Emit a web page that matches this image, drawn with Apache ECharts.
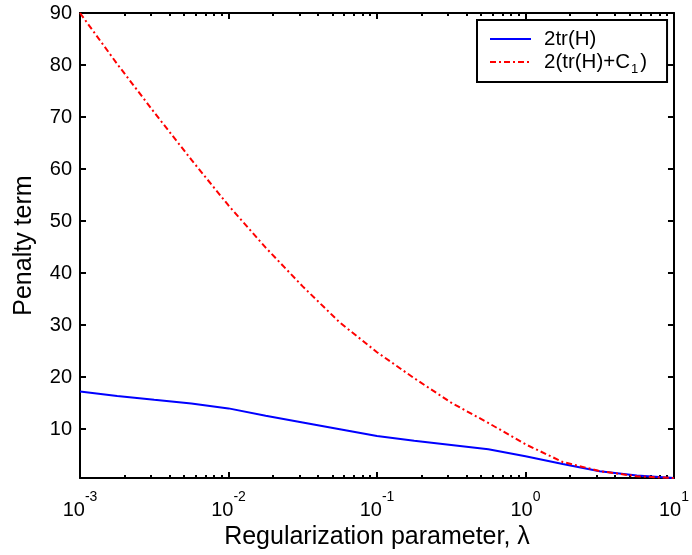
<!DOCTYPE html>
<html><head><meta charset="utf-8">
<script src="https://cdn.jsdelivr.net/npm/echarts@6/dist/echarts.min.js"></script>
<style>html,body{margin:0;padding:0;background:#fff}#c{width:692px;height:555px}</style>
</head><body><div id="c"></div>
<script>
// lambda values (log spaced sample positions)
const lambdas = [0.001, 0.00178, 0.00316, 0.00562, 0.01, 0.0178, 0.0316, 0.0562, 0.1, 0.178, 0.316, 0.562, 1, 1.78, 3.16, 5.62, 10];
// 2tr(H)  (blue solid)
const trH2 = [17.25, 16.4, 15.65, 14.95, 14.0, 12.6, 11.3, 10.0, 8.7, 7.76, 6.95, 6.15, 4.79, 3.3, 1.9, 1.1, 0.6];
// 2(tr(H)+C_1)  (red dash-dot)
const trHC2 = [90, 80.2, 70.9, 61.8, 53.0, 44.9, 37.45, 30.5, 24.8, 19.8, 15.1, 11.2, 7.1, 3.7, 1.95, 0.95, 0.6];
const seriesNames = ['2tr(H)', '2(tr(H)+C_1)'];
const yTicks = [10, 20, 30, 40, 50, 60, 70, 80, 90];
const xMajorTicks = [0.001, 0.01, 0.1, 1, 10];
const xMinorTicks = [0.002, 0.003, 0.004, 0.005, 0.006, 0.007, 0.008, 0.009,
  0.02, 0.03, 0.04, 0.05, 0.06, 0.07, 0.08, 0.09,
  0.2, 0.3, 0.4, 0.5, 0.6, 0.7, 0.8, 0.9,
  2, 3, 4, 5, 6, 7, 8, 9];
const xTitle = 'Regularization parameter, λ';
const yTitle = 'Penalty term';

const FONT = '"Liberation Sans", Arial, Helvetica, sans-serif';
const chart = echarts.init(document.getElementById('c'), null, {renderer: 'canvas'});
const line = () => ({lineStyle: {color: '#000', width: 2}});
const tickStyle = () => ({color: '#000', width: 2});
const X = () => ({type: 'log', logBase: 10, min: 0.001, max: 10, splitLine: {show: false}, gridIndex: 0});
const xAxes = [
  Object.assign(X(), {
    position: 'bottom', axisLine: line(),
    axisTick: {show: true, inside: true, length: 6, customValues: xMajorTicks, lineStyle: tickStyle()},
    axisLabel: {
      customValues: xMajorTicks, margin: 12, color: '#000', fontFamily: FONT,
      formatter: v => '{b|10}{s|' + Math.round(Math.log10(v)) + '}',
      rich: {
        b: {fontSize: 20, lineHeight: 30, verticalAlign: 'bottom', fontFamily: FONT, color: '#000'},
        s: {fontSize: 14, lineHeight: 14, verticalAlign: 'top', fontFamily: FONT, color: '#000'}
      }
    },
    name: xTitle, nameLocation: 'middle', nameGap: 38,
    nameTextStyle: {fontSize: 25, fontFamily: FONT, color: '#000'}
  }),
  Object.assign(X(), {
    position: 'bottom', axisLine: {show: false},
    axisTick: {show: true, inside: true, length: 3, customValues: xMinorTicks, lineStyle: tickStyle()},
    axisLabel: {show: false}
  }),
  Object.assign(X(), {
    position: 'top', axisLine: line(),
    axisTick: {show: true, inside: true, length: 6, customValues: xMajorTicks, lineStyle: tickStyle()},
    axisLabel: {show: false}
  }),
  Object.assign(X(), {
    position: 'top', axisLine: {show: false},
    axisTick: {show: true, inside: true, length: 3, customValues: xMinorTicks, lineStyle: tickStyle()},
    axisLabel: {show: false}
  })
];
const Y = () => ({type: 'value', min: 0.6, max: 90, splitLine: {show: false}, gridIndex: 0});
const yAxes = [
  Object.assign(Y(), {
    position: 'left', axisLine: line(),
    axisTick: {show: true, inside: true, length: 6, customValues: yTicks, lineStyle: tickStyle()},
    axisLabel: {customValues: yTicks, margin: 8, fontSize: 20, fontFamily: FONT, color: '#000'},
    name: yTitle, nameLocation: 'middle', nameGap: 43,
    nameTextStyle: {fontSize: 25, fontFamily: FONT, color: '#000'}
  }),
  Object.assign(Y(), {
    position: 'right', axisLine: line(),
    axisTick: {show: true, inside: true, length: 6, customValues: yTicks, lineStyle: tickStyle()},
    axisLabel: {show: false}
  })
];

chart.setOption({
  animation: false,
  backgroundColor: '#fff',
  grid: {left: 80, right: 16, top: 13, bottom: 76},
  xAxis: xAxes,
  yAxis: yAxes,
  legend: {
    left: 477, top: 20, orient: 'vertical',
    itemWidth: 41, itemHeight: 14, itemGap: -5,
    padding: [5, 20, 6, 12],
    borderColor: '#000', borderWidth: 2, backgroundColor: '#fff',
    data: seriesNames,
    itemStyle: {opacity: 0},
    formatter: n => n.replace('C_1', 'C{sub|1}'),
    textStyle: {
      fontSize: 20.5, fontFamily: FONT, color: '#000', lineHeight: 28, padding: [0, 0, 0, 8],
      rich: {sub: {fontSize: 13, lineHeight: 13, verticalAlign: 'bottom', fontFamily: FONT, color: '#000', padding: [0, 2, 0, 1]}}
    }
  },
  series: [
    {
      name: seriesNames[0], type: 'line', xAxisIndex: 0, yAxisIndex: 0,
      symbol: 'none', showSymbol: false,
      data: lambdas.map((x, i) => [x, trH2[i]]),
      lineStyle: {color: '#0000ff', width: 2, type: 'solid'},
      itemStyle: {color: '#0000ff'}
    },
    {
      name: seriesNames[1], type: 'line', xAxisIndex: 0, yAxisIndex: 0,
      symbol: 'none', showSymbol: false,
      data: lambdas.map((x, i) => [x, trHC2[i]]),
      lineStyle: {color: '#ff0000', width: 2, type: [6, 3, 2, 3]},
      itemStyle: {color: '#ff0000'}
    }
  ]
});
</script></body></html>
